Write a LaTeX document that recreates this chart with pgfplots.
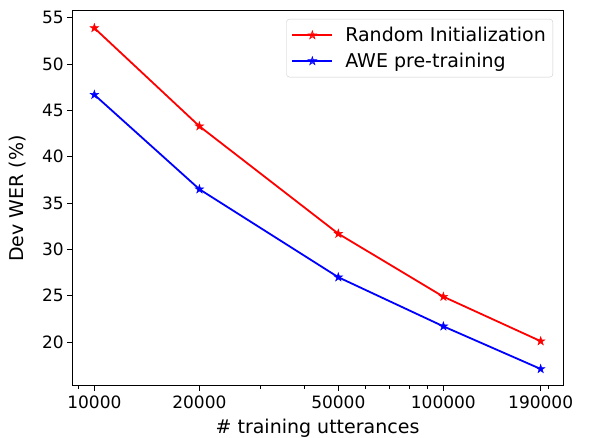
\documentclass[border=0pt]{standalone}
\usepackage{fontspec}
\setmainfont{DejaVu Sans}
\usepackage{pgfplots}
\pgfplotsset{compat=1.18}

% filled five-pointed star, like matplotlib's '*'
\pgfdeclareplotmark{fstar}{%
  \pgfpathmoveto{\pgfpointpolar{90}{\pgfplotmarksize}}%
  \pgfpathlineto{\pgfpointpolar{126}{0.382\pgfplotmarksize}}%
  \pgfpathlineto{\pgfpointpolar{162}{\pgfplotmarksize}}%
  \pgfpathlineto{\pgfpointpolar{198}{0.382\pgfplotmarksize}}%
  \pgfpathlineto{\pgfpointpolar{234}{\pgfplotmarksize}}%
  \pgfpathlineto{\pgfpointpolar{270}{0.382\pgfplotmarksize}}%
  \pgfpathlineto{\pgfpointpolar{306}{\pgfplotmarksize}}%
  \pgfpathlineto{\pgfpointpolar{342}{0.382\pgfplotmarksize}}%
  \pgfpathlineto{\pgfpointpolar{18}{\pgfplotmarksize}}%
  \pgfpathlineto{\pgfpointpolar{54}{0.382\pgfplotmarksize}}%
  \pgfpathclose
  \pgfusepathqfillstroke
}

\begin{document}
\begin{tikzpicture}
\begin{axis}[
  name=ax, at={(0,0)}, anchor=south west,
  width=491pt, height=375pt, scale only axis,
  xmode=log, log basis x=10,
  xmin=8630, xmax=220200, ymin=15.26, ymax=55.74,
  xtick={10000,20000,50000,100000,190000},
  xticklabels={10000,20000,50000,100000,190000},
  minor xtick={9000,30000,40000,60000,70000,80000,90000,200000},
  ytick={20,25,30,35,40,45,50,55},
  yticklabels={20,25,30,35,40,45,50,55},
  tick align=outside, tick pos=left,
  major tick length=4.8pt, minor tick length=2.7pt,
  every tick/.style={black, line width=1pt},
  axis line style={black, line width=1pt},
  /pgf/number format/assume math mode=true,
  ticklabel style={font=\fontsize{17}{20}\selectfont},
  xticklabel shift=2pt,
  label style={font=\fontsize{19}{22}\selectfont},
  xlabel={\# training utterances},
  ylabel={Dev WER (\%)},
  xlabel shift=3pt,
  ylabel shift=9pt,
  legend style={at={(1,1)}, anchor=north east, xshift=-10pt, yshift=-8pt,
    draw=black!20, rounded corners=3pt, fill=white, fill opacity=0.8,
    text opacity=1, font=\fontsize{19}{22}\selectfont,
    inner xsep=5pt, inner ysep=6pt, row sep=6pt,
    /tikz/every odd column/.append style={column sep=10pt}},
  legend cell align=left,
  legend image code/.code={%
    \draw[mark repeat=2, mark phase=2] plot coordinates {(0pt,0pt) (20pt,0pt) (40pt,0pt)};},
]
\addplot[color={rgb,1:red,1;green,0;blue,0}, line width=1.8pt, mark=fstar, mark size=4.5pt,
  mark options={solid, line width=0.5pt}]
  coordinates {
  (10000, 53.9)
  (20000, 43.3)
  (50000, 31.7)
  (100000, 24.9)
  (190000, 20.1)
  };
\addlegendentry{Random Initialization}
\addplot[color={rgb,1:red,0;green,0;blue,1}, line width=1.8pt, mark=fstar, mark size=4.5pt,
  mark options={solid, line width=0.5pt}]
  coordinates {
  (10000, 46.7)
  (20000, 36.5)
  (50000, 27.0)
  (100000, 21.7)
  (190000, 17.1)
  };
\addlegendentry{AWE pre-training}
\end{axis}
\pgfresetboundingbox
\path[use as bounding box] (-72pt,-52pt) rectangle (524pt,386pt);
\end{tikzpicture}
\end{document}
